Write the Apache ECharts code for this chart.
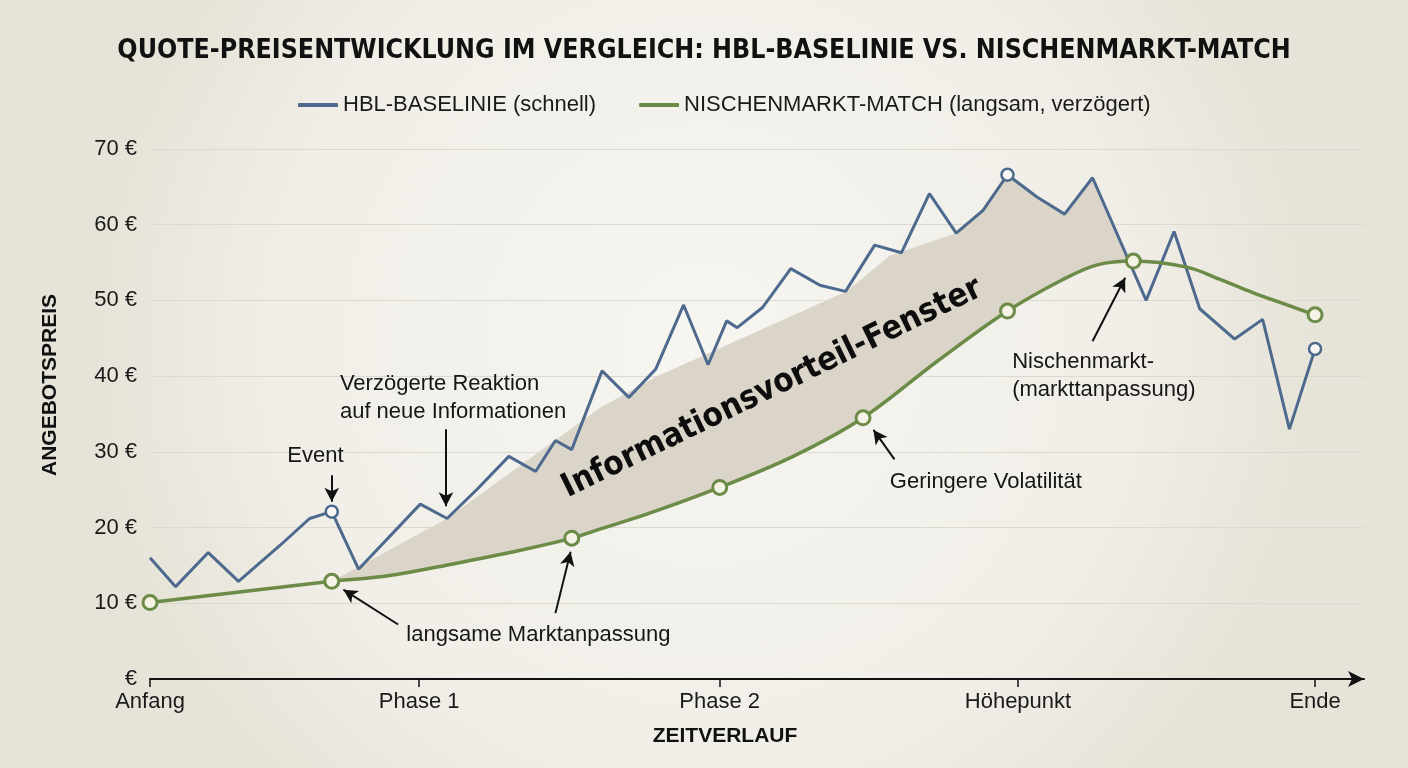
<!DOCTYPE html>
<html>
<head>
<meta charset="utf-8">
<title>Quote-Preisentwicklung im Vergleich</title>
<script src="https://cdn.jsdelivr.net/npm/echarts@6.0.0/dist/echarts.min.js"></script>
<style>
  html, body { margin: 0; padding: 0; background: #eeece5; }
  #chart { width: 1408px; height: 768px; }
</style>
</head>
<body>
<div id="chart"></div>
<script>
  // time axis: Anfang = 0, Ende = 100
  const tickValues = [0, 23.1, 48.9, 74.5, 100];
  const tickLabels = ['Anfang', 'Phase 1', 'Phase 2', 'Höhepunkt', 'Ende'];

  // HBL-Baselinie (schnell)
  const blueX = [0, 2.2, 5.0, 7.6, 11.2, 13.7, 15.6, 17.9, 23.2, 25.5, 28.1, 30.8, 33.1, 34.8, 36.2,
    38.8, 41.1, 43.4, 45.8, 47.9, 49.5, 50.4, 52.6, 55.0, 57.5, 59.7, 62.2, 64.5, 66.9, 69.2,
    71.5, 73.6, 76.1, 78.5, 80.9, 85.5, 87.9, 90.1, 93.1, 95.5, 97.8, 100];
  const blueY = [16.0, 12.2, 16.7, 12.9, 17.7, 21.2, 22.1, 14.5, 23.1, 21.2, 25.1, 29.4, 27.4, 31.5, 30.3,
    40.7, 37.2, 40.9, 49.4, 41.5, 47.3, 46.4, 49.1, 54.2, 52.0, 51.2, 57.3, 56.3, 64.1, 58.9,
    61.9, 66.6, 63.7, 61.4, 66.2, 50.0, 59.1, 48.9, 44.9, 47.5, 33.0, 43.6];
  const blueMarked = [6, 31, 41];

  // Nischenmarkt-Match (langsam, verzögert)
  const greenX = [0, 15.6, 20.3, 26.0, 31.8, 36.2, 38.6, 42.7, 48.9, 55.2, 61.2, 67.6, 73.6, 78.4,
    81.3, 84.4, 89.0, 91.8, 94.7, 97.6, 100];
  const greenY = [10.1, 12.9, 13.6, 15.2, 17.0, 18.6, 19.8, 21.8, 25.3, 29.4, 34.5, 42.0, 48.6, 52.8,
    54.7, 55.2, 54.4, 52.8, 51.0, 49.4, 48.1];
  const greenMarked = [0, 1, 5, 8, 10, 12, 15, 20];

  // upper edge of the Informationsvorteil-Fenster (lower edge = green line)
  const windowX = [15.6, 25.5, 38.6, 43.4, 59.8, 63.5, 69.2, 71.5, 73.6, 76.1, 78.5, 80.9, 84.0];
  const windowY = [12.9, 21.2, 35.8, 39.9, 51.2, 55.9, 58.9, 61.9, 66.6, 63.7, 61.4, 66.2, 55.2];

  const notes = [
    { text: 'Event', at: [14.2, 29.4], align: 'center' },
    { text: 'Verzögerte Reaktion\nauf neue Informationen', at: [16.3, 37.1], align: 'left' },
    { text: 'langsame Marktanpassung', at: [22.0, 5.8], align: 'left' },
    { text: 'Geringere Volatilität', at: [63.5, 26.0], align: 'left' },
    { text: 'Nischenmarkt-\n(markttanpassung)', at: [74.0, 40.0], align: 'left' },
  ];
  const arrows = [
    [[15.6, 26.9], [15.6, 23.4]],
    [[25.4, 33.0], [25.4, 22.8]],
    [[21.3, 7.2], [16.6, 11.8]],
    [[34.8, 8.7], [36.1, 16.8]],
    [[63.9, 29.0], [62.1, 32.9]],
    [[80.9, 44.6], [83.7, 53.0]],
  ];

  const BLUE = '#4d6a8e';
  const GREEN = '#6b8b47';
  const FONT = "'Liberation Sans', Arial, sans-serif";
  const FONT_COND = "'Liberation Sans Narrow', 'DejaVu Sans Condensed', 'Liberation Sans', sans-serif";

  const chart = echarts.init(document.getElementById('chart'));

  const blueData = blueX.map((x, i) => blueMarked.includes(i)
    ? { value: [x, blueY[i]], symbol: 'circle', symbolSize: 12 }
    : { value: [x, blueY[i]], symbol: 'none' });
  const greenData = greenX.map((x, i) => greenMarked.includes(i)
    ? { value: [x, greenY[i]], symbol: 'circle', symbolSize: 14 }
    : { value: [x, greenY[i]], symbol: 'none' });

  const option = {
    animation: false,
    backgroundColor: {
      type: 'radial', x: 0.5, y: 0.45, r: 0.8,
      colorStops: [
        { offset: 0, color: '#f6f5f0' },
        { offset: 0.7, color: '#f0eee7' },
        { offset: 1, color: '#e6e3d8' },
      ],
    },
    title: {
      text: 'QUOTE-PREISENTWICKLUNG IM VERGLEICH: HBL-BASELINIE VS. NISCHENMARKT-MATCH',
      left: 'center',
      top: 33,
      textStyle: { fontFamily: FONT_COND, fontSize: 26.5, fontWeight: 'bold', color: '#111' },
    },
    legend: {
      data: [
        { name: 'HBL-BASELINIE (schnell)', itemStyle: { color: BLUE, borderWidth: 0 } },
        { name: 'NISCHENMARKT-MATCH (langsam, verzögert)', itemStyle: { color: GREEN, borderWidth: 0 } },
      ],
      left: 293,
      top: 89,
      icon: 'roundRect',
      itemWidth: 40,
      itemHeight: 4,
      itemGap: 43,
      textStyle: { fontFamily: FONT, fontSize: 22, color: '#1a1a1a', padding: [0, 0, 0, 0] },
    },
    grid: { left: 150, right: 44, top: 149, bottom: 89, outerBoundsMode: 'none' },
    xAxis: {
      type: 'value',
      min: 0,
      max: 104.2,
      name: 'ZEITVERLAUF',
      nameLocation: 'middle',
      nameGap: 47,
      nameTextStyle: { fontFamily: FONT, fontSize: 21, fontWeight: 'bold', color: '#111', padding: [0, 64, 0, 0] },
      axisLine: {
        lineStyle: { color: '#111', width: 2 },
        symbol: ['none', 'arrow'],
        symbolSize: [12, 16],
      },
      axisTick: { customValues: tickValues, length: 8, lineStyle: { color: '#111', width: 1.5 } },
      axisLabel: {
        customValues: tickValues,
        margin: 12,
        fontFamily: FONT,
        fontSize: 22,
        color: '#1a1a1a',
        formatter: (v) => {
          const i = tickValues.findIndex((t) => Math.abs(t - v) < 0.01);
          return i >= 0 ? tickLabels[i] : '';
        },
      },
      splitLine: { show: false },
    },
    yAxis: {
      type: 'value',
      min: 0,
      max: 70,
      interval: 10,
      axisLine: { show: false },
      axisTick: { show: false },
      axisLabel: {
        margin: 13,
        fontFamily: FONT,
        fontSize: 22,
        color: '#1a1a1a',
        formatter: (v) => (v === 0 ? '€' : v + ' €'),
      },
      splitLine: { lineStyle: { color: '#dcd9d0', width: 1 } },
    },
    graphic: [
      {
        type: 'text',
        x: 50,
        y: 385,
        rotation: Math.PI / 2,
        style: {
          text: 'ANGEBOTSPREIS',
          font: 'bold 21px ' + FONT,
          fill: '#111',
          textAlign: 'center',
          textVerticalAlign: 'middle',
        },
      },
    ],
    series: [
      {
        type: 'custom',
        name: 'Informationsvorteil-Fenster',
        silent: true,
        z: 1,
        data: [[windowX[0], windowY[0]]],
        renderItem: (params, api) => {
          const pts = windowX.map((x, i) => api.coord([x, windowY[i]]));
          const x0 = windowX[0];
          const x1 = windowX[windowX.length - 1];
          for (let i = greenX.length - 1; i >= 0; i--) {
            if (greenX[i] > x0 && greenX[i] < x1) pts.push(api.coord([greenX[i], greenY[i]]));
          }
          return { type: 'polygon', shape: { points: pts }, style: { fill: '#dbd5c9' } };
        },
      },
      {
        type: 'line',
        name: 'HBL-BASELINIE (schnell)',
        z: 3,
        data: blueData,
        showAllSymbol: true,
        color: BLUE,
        lineStyle: { color: BLUE, width: 3 },
        itemStyle: { color: '#f7f7f3', borderColor: BLUE, borderWidth: 2.5 },
      },
      {
        type: 'line',
        name: 'NISCHENMARKT-MATCH (langsam, verzögert)',
        z: 4,
        smooth: 0.35,
        data: greenData,
        showAllSymbol: true,
        color: GREEN,
        lineStyle: { color: GREEN, width: 3.5 },
        itemStyle: { color: '#f4f3e6', borderColor: GREEN, borderWidth: 3 },
      },
      {
        type: 'line',
        name: 'annotations',
        z: 5,
        data: [],
        silent: true,
        markLine: {
          silent: true,
          symbol: ['none', 'arrow'],
          symbolSize: [11, 14],
          label: { show: false },
          lineStyle: { color: '#111', width: 2, type: 'solid' },
          data: arrows.map(([a, b]) => [{ coord: a }, { coord: b }]),
        },
        markPoint: {
          silent: true,
          symbol: 'circle',
          symbolSize: 0,
          itemStyle: { color: 'transparent' },
          data: notes.map((n) => ({
            name: n.text,
            coord: n.at,
            label: {
              show: true,
              formatter: '{b}',
              position: n.align === 'left' ? 'right' : 'inside',
              distance: 0,
              align: n.align,
              fontFamily: FONT,
              fontSize: 22,
              lineHeight: 28,
              color: '#161616',
            },
          })).concat([{
            name: 'Informationsvorteil-Fenster',
            coord: [53.4, 38.4],
            label: {
              show: true,
              formatter: '{b}',
              position: 'inside',
              rotate: 26,
              fontFamily: FONT_COND,
              fontSize: 33,
              fontWeight: 'bold',
              color: '#0d0d0d',
            },
          }]),
        },
      },
    ],
  };

  chart.setOption(option);
  window.addEventListener('resize', () => chart.resize());
</script>
</body>
</html>
